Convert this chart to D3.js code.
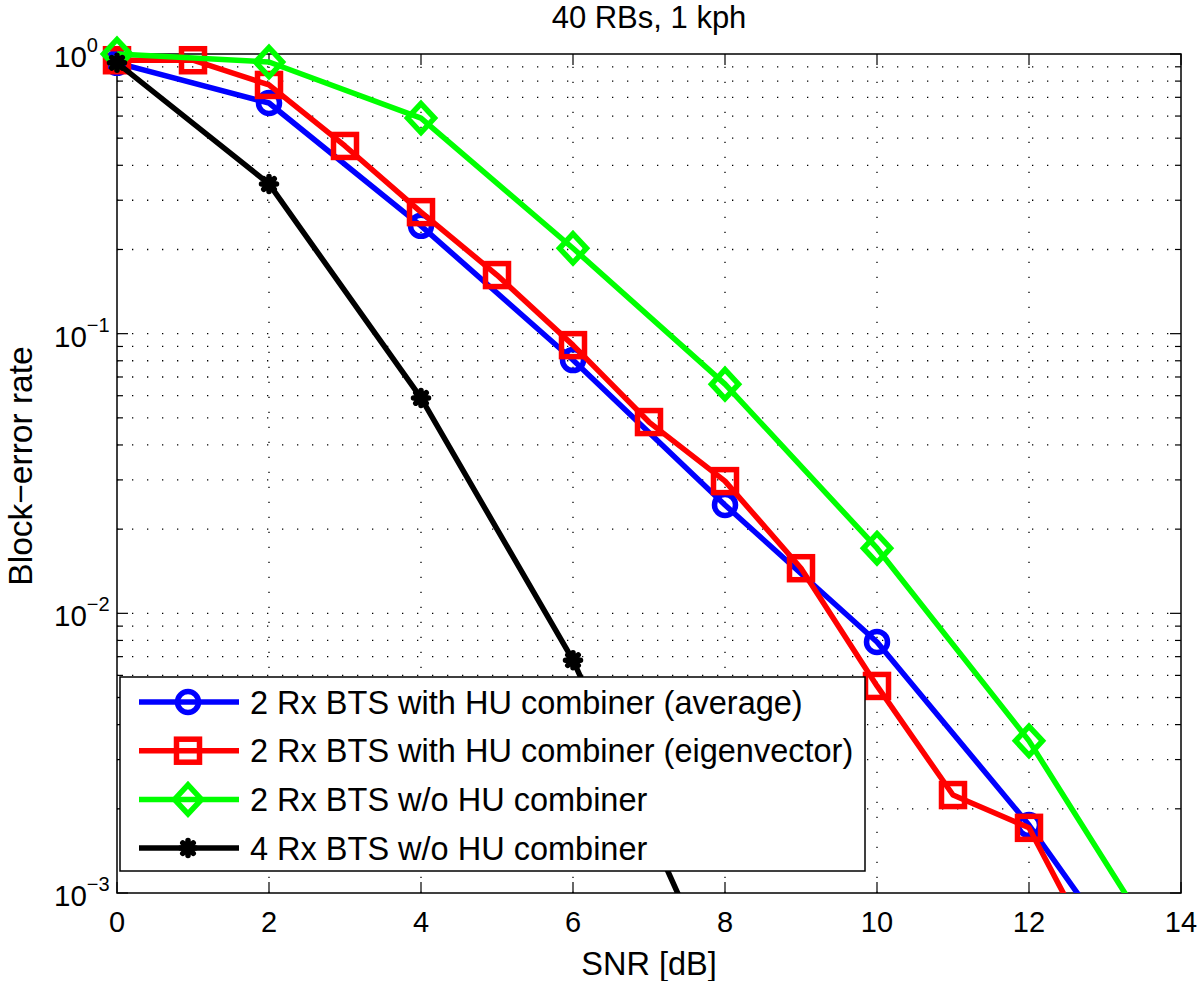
<!DOCTYPE html>
<html><head><meta charset="utf-8">
<script src="https://cdn.jsdelivr.net/npm/d3@7"></script>
<style>body{margin:0;background:#fff}svg{display:block}text{font-family:"Liberation Sans",Arial,sans-serif}</style>
</head><body><svg id="c" width="1200" height="981"></svg>
<script>
const title = "40 RBs, 1 kph";
const xLabel = "SNR [dB]";
const yLabel = "Block\u2212error rate";
const xTicks = [0,2,4,6,8,10,12,14];
const yTicks = [1,0.1,0.01,0.001];
const yTickExp = ["0","\u22121","\u22122","\u22123"];

const blueX = [0,2,4,6,8,10,12,14];
const blueY = [0.93,0.668,0.243,0.0805,0.0244,0.0079,0.00175,0.0003];
const redX = [0,1,2,3,4,5,6,7,8,9,10,11,12,13];
const redY = [0.95,0.95,0.775,0.469,0.272,0.162,0.091,0.0483,0.0297,0.0145,0.0055,0.00224,0.00171,0.00052];
const greenX = [0,2,4,6,8,10,12,14];
const greenY = [1.0,0.936,0.59,0.202,0.066,0.0171,0.0035,0.00048];
const blackX = [0,2,4,6,8];
const blackY = [0.93,0.343,0.0589,0.0068,0.00042];

const seriesNames = ["2 Rx BTS with HU combiner (average)","2 Rx BTS with HU combiner (eigenvector)","2 Rx BTS w/o HU combiner","4 Rx BTS w/o HU combiner"];

const series = [
  {name:seriesNames[0], xs:blueX, ys:blueY, color:"#0000ff", marker:"circle"},
  {name:seriesNames[1], xs:redX, ys:redY, color:"#ff0000", marker:"square"},
  {name:seriesNames[2], xs:greenX, ys:greenY, color:"#00ff00", marker:"diamond"},
  {name:seriesNames[3], xs:blackX, ys:blackY, color:"#000000", marker:"star"}
];

const L=117, R=1181, T=54, B=893;
const LW=5.5;
const svg = d3.select("#c");
const x = d3.scaleLinear().domain([0,14]).range([L,R]);
const y = d3.scaleLog().domain([0.001,1]).range([B,T]);

// grid
const grid = svg.append("g").attr("stroke","#000").attr("stroke-width",1.3).attr("stroke-dasharray","1.3,13.7");
xTicks.slice(1,-1).forEach(t=>grid.append("line").attr("x1",x(t)).attr("x2",x(t)).attr("y1",B).attr("y2",T));
const minorY=[];
for(let e=-3;e<0;e++){for(let m=1;m<=9;m++){const v=m*Math.pow(10,e); if(v>0.001) minorY.push(v);}}
minorY.forEach(v=>grid.append("line").attr("x1",L).attr("x2",R).attr("y1",y(v)).attr("y2",y(v)));

// ticks
const tk = svg.append("g").attr("stroke","#000").attr("stroke-width",1.2);
xTicks.forEach(t=>{tk.append("line").attr("x1",x(t)).attr("x2",x(t)).attr("y1",B).attr("y2",B-11);
  tk.append("line").attr("x1",x(t)).attr("x2",x(t)).attr("y1",T).attr("y2",T+11);});
yTicks.forEach(v=>{tk.append("line").attr("x1",L).attr("x2",L+11).attr("y1",y(v)).attr("y2",y(v));
  tk.append("line").attr("x1",R).attr("x2",R-11).attr("y1",y(v)).attr("y2",y(v));});
minorY.filter(v=>yTicks.indexOf(v)<0).forEach(v=>{tk.append("line").attr("x1",L).attr("x2",L+6).attr("y1",y(v)).attr("y2",y(v));
  tk.append("line").attr("x1",R).attr("x2",R-6).attr("y1",y(v)).attr("y2",y(v));});

// box
svg.append("rect").attr("x",L).attr("y",T).attr("width",R-L).attr("height",B-T).attr("fill","none").attr("stroke","#000").attr("stroke-width",1.5);

// tick labels
xTicks.forEach(t=>svg.append("text").attr("x",x(t)).attr("y",932).attr("text-anchor","middle").attr("font-size",29).text(t));
yTicks.forEach((v,i)=>{
  const tx = svg.append("text").attr("x",54).attr("y",y(v)+13).attr("text-anchor","start").attr("font-size",29.5);
  tx.append("tspan").text("10");
  tx.append("tspan").attr("dy",-15).attr("font-size",20).text(yTickExp[i]);
});

// labels
svg.append("text").attr("x",(L+R)/2).attr("y",975).attr("text-anchor","middle").attr("font-size",32.5).text(xLabel);
svg.append("text").attr("transform",`translate(${32},${466}) rotate(-90)`).attr("text-anchor","middle").attr("font-size",33.5).text(yLabel);
svg.append("text").attr("x",(L+R)/2).attr("y",28).attr("text-anchor","middle").attr("font-size",31).text(title);

// clip
svg.append("clipPath").attr("id","clip").append("rect").attr("x",L).attr("y",T-30).attr("width",R-L).attr("height",B-T+30);

function drawMarker(g, type, cx, cy, color){
  if(type==="circle") g.append("circle").attr("cx",cx).attr("cy",cy).attr("r",10.5).attr("fill","none").attr("stroke",color).attr("stroke-width",LW);
  else if(type==="square") g.append("rect").attr("x",cx-11.5).attr("y",cy-11.5).attr("width",23).attr("height",23).attr("fill","none").attr("stroke",color).attr("stroke-width",LW);
  else if(type==="diamond") g.append("path").attr("d",`M${cx},${cy-14.5}L${cx+13.5},${cy}L${cx},${cy+14.5}L${cx-13.5},${cy}Z`).attr("fill","none").attr("stroke",color).attr("stroke-width",LW);
  else {
    const s=7.5;
    g.append("path").attr("d",`M${cx-s},${cy}L${cx+s},${cy}M${cx},${cy-s}L${cx},${cy+s}M${cx-s*0.7},${cy-s*0.7}L${cx+s*0.7},${cy+s*0.7}M${cx-s*0.7},${cy+s*0.7}L${cx+s*0.7},${cy-s*0.7}`)
      .attr("stroke",color).attr("stroke-width",LW).attr("stroke-linecap","round");
  }
}

const line = d3.line().x(d=>x(d[0])).y(d=>y(d[1]));
series.forEach(s=>{
  const pts = s.xs.map((v,i)=>[v,s.ys[i]]);
  svg.append("path").attr("d",line(pts)).attr("clip-path","url(#clip)").attr("fill","none").attr("stroke",s.color).attr("stroke-width",LW).attr("stroke-linejoin","round");
  const g = svg.append("g");
  pts.filter(p=>p[1]>=0.001).forEach(p=>drawMarker(g,s.marker,x(p[0]),y(p[1]),s.color));
});

// legend
const lg = svg.append("g");
lg.append("rect").attr("x",120).attr("y",677).attr("width",745).attr("height",194).attr("fill","#fff").attr("stroke","#000").attr("stroke-width",1.5);
series.forEach((s,i)=>{
  const yy = 702 + i*48.7;
  lg.append("line").attr("x1",139).attr("x2",239).attr("y1",yy).attr("y2",yy).attr("stroke",s.color).attr("stroke-width",LW);
  drawMarker(lg,s.marker,188,yy,s.color);
  lg.append("text").attr("x",250).attr("y",yy+11.5).attr("font-size",32.5).text(s.name);
});
</script></body></html>
